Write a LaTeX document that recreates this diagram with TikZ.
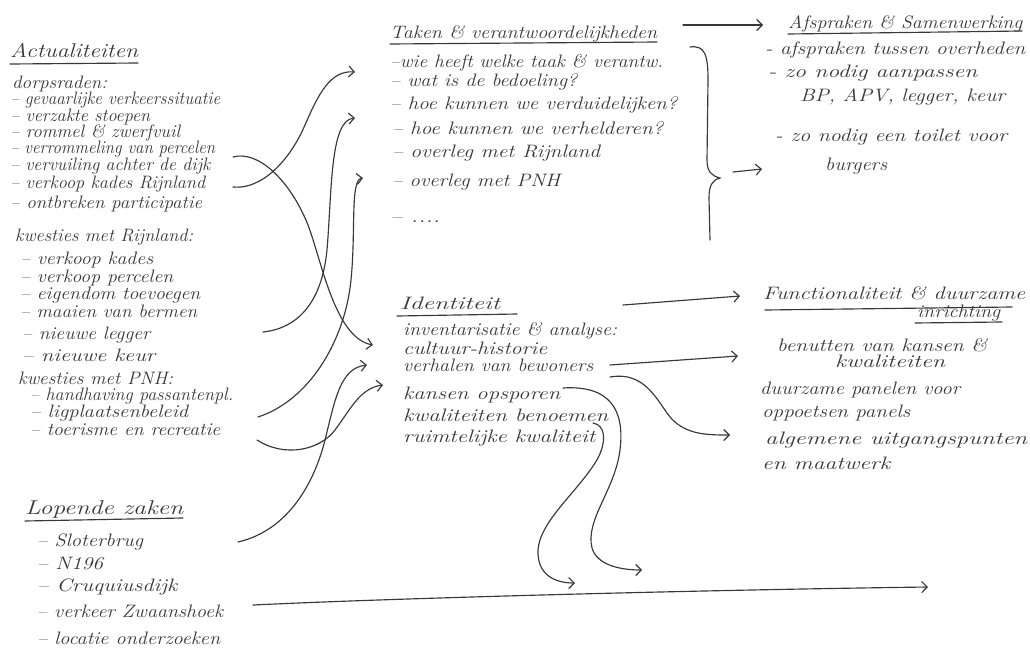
\documentclass[tikz,border=0pt]{standalone}
\usepackage{graphicx}
\usetikzlibrary{arrows.meta}
\definecolor{ink}{HTML}{383838}
\newcommand{\hw}[2]{\resizebox{#1pt}{\height}{#2}}
\begin{document}
\begin{tikzpicture}[x=1pt,y=-1pt,
  txt/.style={anchor=base west,inner sep=0pt,text=ink,font=\fontsize{18}{18}\selectfont\itshape},
  ttl/.style={txt,font=\fontsize{20}{20}\selectfont\itshape},
  pen/.style={draw=ink,line width=1.15pt,line cap=round},
  arr/.style={pen,-{Straight Barb[length=5.5pt,width=11pt]}}]
\path[fill=white] (0,0) rectangle (1030,653);
\useasboundingbox (0,0) rectangle (1030,653);

% ---- Actualiteiten
\node[ttl] (act) at (10,57) {\hw{128}{Actualiteiten}};
\node[txt] (a1) at (12,88) {\hw{95}{dorpsraden:}};
\node[txt] (a2) at (10,104) {\hw{210}{-- gevaarlijke verkeerssituatie}};
\node[txt] (a3) at (10,121) {\hw{140}{-- verzakte stoepen}};
\node[txt] (a4) at (10,137) {\hw{170}{-- rommel \& zwerfvuil}};
\node[txt] (a5) at (10,153) {\hw{205}{-- verrommeling van percelen}};
\node[txt] (a6) at (10,170) {\hw{200}{-- vervuiling achter de dijk}};
\node[txt] (a7) at (10,188) {\hw{195}{-- verkoop kades Rijnland}};
\node[txt] (a8) at (10,208) {\hw{192}{-- ontbreken participatie}};
\node[txt] (a9) at (15,241) {\hw{178}{kwesties met Rijnland:}};
\node[txt] (a10) at (20,264) {\hw{133}{-- verkoop kades}};
\node[txt] (a11) at (20,282) {\hw{153}{-- verkoop percelen}};
\node[txt] (a12) at (20,299) {\hw{180}{-- eigendom toevoegen}};
\node[txt] (a13) at (20,317) {\hw{177}{-- maaien van bermen}};
\node[txt] (a14) at (22,339) {\hw{128}{-- nieuwe legger}};
\node[txt] (a15) at (22,361) {\hw{133}{-- nieuwe keur}};
\node[txt] (a16) at (18,384) {\hw{155}{kwesties met PNH:}};
\node[txt] (a17) at (30,400) {\hw{203}{-- handhaving passantenpl.}};
\node[txt] (a18) at (30,417) {\hw{158}{-- ligplaatsenbeleid}};
\node[txt] (a19) at (30,435) {\hw{190}{-- toerisme en recreatie}};

% ---- Lopende zaken
\node[ttl] (lz) at (25,514) {\hw{158}{Lopende zaken}};
\node[txt] (l1) at (37,546) {\hw{106}{-- Sloterbrug}};
\node[txt] (l2) at (37,569) {\hw{66}{-- N196}};
\node[txt] (l3) at (37,591) {\hw{140}{-- Cruquiusdijk}};
\node[txt] (l4) at (37,617) {\hw{186}{-- verkeer Zwaanshoek}};
\node[txt] (l5) at (37,644) {\hw{183}{-- locatie onderzoeken}};

% ---- Taken
\node[txt] (tk) at (390,38) {\hw{267}{Taken \& verantwoordelijkheden}};
\node[txt] (t1) at (390,67) {\hw{273}{--wie heeft welke taak \& verantw.}};
\node[txt] (t2) at (390,86) {\hw{187}{-- wat is de bedoeling?}};
\node[txt] (t3) at (390,109) {\hw{287}{-- hoe kunnen we verduidelijken?}};
\node[txt] (t4) at (392,134) {\hw{271}{-- hoe kunnen we verhelderen?}};
\node[txt] (t5) at (392,157) {\hw{208}{-- overleg met Rijnland}};
\node[txt] (t6) at (392,186) {\hw{168}{-- overleg met PNH}};
\node[txt] (t7) at (390,222) {\hw{50}{-- ....}};

% ---- Afspraken
\node[txt] (af) at (788,28) {\hw{234}{Afspraken \& Samenwerking}};
\node[txt] (f1) at (765,54) {\hw{260}{- afspraken tussen overheden}};
\node[txt] (f2) at (768,77) {\hw{209}{- zo nodig aanpassen}};
\node[txt] (f3) at (800,101) {\hw{205}{BP, APV, legger, keur}};
\node[txt] (f4) at (775,141) {\hw{232}{- zo nodig een toilet voor}};
\node[txt] (f5) at (825,170) {\hw{62}{burgers}};

% ---- Identiteit
\node[txt] (id) at (400,309) {\hw{100}{Identiteit}};
\node[txt] (i1) at (403,335) {\hw{214}{inventarisatie \& analyse:}};
\node[txt] (i2) at (403,354) {\hw{144}{cultuur-historie}};
\node[txt] (i3) at (403,371) {\hw{190}{verhalen van bewoners}};
\node[txt] (i4) at (403,399) {\hw{157}{kansen opsporen}};
\node[txt] (i5) at (403,421) {\hw{205}{kwaliteiten benoemen}};
\node[txt] (i6) at (403,442) {\hw{192}{ruimtelijke kwaliteit}};

% ---- Functionaliteit
\node[txt] (fu) at (763,299) {\hw{262}{Functionaliteit \& duurzame}};
\node[txt] (fu2) at (917,317) {\hw{83}{inrichting}};
\node[txt] (u1) at (777,351) {\hw{210}{benutten van kansen \&}};
\node[txt] (u2) at (835,367) {\hw{110}{kwaliteiten}};
\node[txt] (u3) at (760,394) {\hw{200}{duurzame panelen voor}};
\node[txt] (u4) at (762,417) {\hw{148}{oppoetsen panels}};
\node[txt] (u5) at (765,444) {\hw{262}{algemene uitgangspunten}};
\node[txt] (u6) at (762,469) {\hw{128}{en maatwerk}};

% ---- underlines
\draw[pen] (10,64) -- (138,63);
\draw[pen] (390,44) -- (657,42);
\draw[pen] (788,34) -- (1022,31);
\draw[pen] (397,316) -- (517,314);
\draw[pen] (765,310) -- (1012,307);
\draw[pen] (915,323) -- (1002,322);
\draw[pen] (25,521) -- (183,518);

% ---- connector end points
\coordinate (A0) at (233,187); \coordinate (A1) at (355,72);
\coordinate (B0) at (233,157); \coordinate (B1) at (373,345);
\coordinate (C0) at (263,332); \coordinate (C1) at (355,118);
\coordinate (D0) at (258,417); \coordinate (D1) at (363,178);
\coordinate (E0) at (238,542); \coordinate (E1) at (367,365);
\coordinate (F0) at (257,440); \coordinate (F1) at (383,385);
\coordinate (G0) at (683,25);  \coordinate (G1) at (763,25);
\coordinate (I0) at (733,172); \coordinate (I1) at (762,169);
\coordinate (J0) at (623,305); \coordinate (J1) at (740,296);
\coordinate (K0) at (610,365); \coordinate (K1) at (738,356);
\coordinate (L0) at (610,377); \coordinate (L1) at (730,435);
\coordinate (M0) at (563,388); \coordinate (M1) at (642,570);
\coordinate (N0) at (593,423); \coordinate (N1) at (575,583);
\coordinate (O0) at (253,605); \coordinate (O1) at (928,587);

% ---- left connectors
\draw[arr] (A0) .. controls (262,190) and (290,160) .. (305,125) .. controls (318,95) and (330,70) .. (A1);
\draw[arr] (B0) .. controls (258,150) and (290,180) .. (308,225) .. controls (322,262) and (335,338) .. (B1);
\draw[arr] (C0) .. controls (300,328) and (322,300) .. (327,250) .. controls (332,190) and (330,120) .. (C1);
\draw[arr] (D0) .. controls (310,400) and (345,340) .. (351,280) .. controls (356,230) and (350,180) .. (D1);
\draw[arr] (E0) .. controls (290,530) and (315,480) .. (325,440) .. controls (335,400) and (340,368) .. (E1);
\draw[arr] (F0) .. controls (285,458) and (320,450) .. (335,430) .. controls (350,410) and (360,388) .. (F1);

% ---- right connectors
\draw[arr] (G0) -- (G1);
\draw[pen] (690,47) .. controls (705,45) and (708,55) .. (708,80) -- (707,160)
  .. controls (707,172) and (712,176) .. (720,178)
  .. controls (712,180) and (709,186) .. (709,198) -- (710,240);
\draw[arr] (I0) -- (I1);
\draw[arr] (J0) -- (J1);
\draw[arr] (K0) -- (K1);
\draw[arr] (L0) .. controls (650,370) and (660,410) .. (675,422) .. controls (690,435) and (710,435) .. (L1);
\draw[arr] (M0) .. controls (610,385) and (625,410) .. (620,450) .. controls (615,490) and (585,520) .. (592,548) .. controls (597,565) and (620,570) .. (M1);
\draw[arr] (N0) .. controls (605,425) and (607,440) .. (598,458) .. controls (580,490) and (540,520) .. (538,550) .. controls (537,575) and (555,583) .. (N1);
\draw[arr] (O0) .. controls (400,598) and (700,590) .. (O1);
\end{tikzpicture}
\end{document}
